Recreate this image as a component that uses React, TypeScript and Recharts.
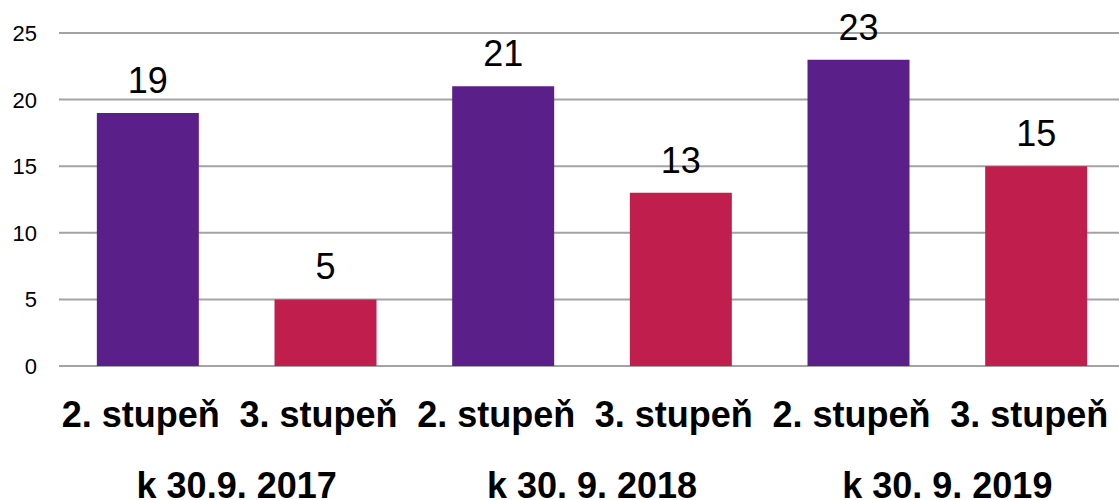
import React from 'react';
import { BarChart, Bar, XAxis, YAxis, CartesianGrid, Cell, LabelList } from 'recharts';

const categories = ['2. stupeň', '3. stupeň', '2. stupeň', '3. stupeň', '2. stupeň', '3. stupeň'];
const groups = ['k 30.9. 2017', 'k 30. 9. 2018', 'k 30. 9. 2019'];
const values = [19, 5, 21, 13, 23, 15];
const yTicks = [0, 5, 10, 15, 20, 25];
const colors = ['#5B1F8A', '#C01F4E'];

const data = categories.map((c, i) => ({ name: c, idx: i, value: values[i] }));

const CHART_W = 1125;
const CHART_H = 510;
const Y_W = 59;
const FONT = '"Liberation Sans", Arial, sans-serif';
const band = (CHART_W - Y_W) / categories.length;

const YTick = (props: any) => {
  const { y, payload } = props;
  return (
    <text x={37} y={y + 8} textAnchor="end" fontSize={22} fontFamily={FONT} fill="#000">
      {payload.value}
    </text>
  );
};

const CatTick = (props: any) => {
  const { x, y, payload } = props;
  return (
    <text x={x - 7} y={y + 61} textAnchor="middle" fontSize={36} fontWeight="bold" fontFamily={FONT} fill="#000">
      {payload.value}
    </text>
  );
};

const GroupTick = (props: any) => {
  const { x, y, index } = props;
  if (index % 2 !== 0) return null;
  return (
    <text x={x + band / 2} y={y + 72} textAnchor="middle" fontSize={36} fontWeight="bold" fontFamily={FONT} fill="#000">
      {groups[index / 2]}
    </text>
  );
};

export default function App() {
  return (
    <div style={{ position: 'absolute', left: 0, top: 0, width: 1119, height: 500, overflow: 'hidden', background: '#fff' }}>
      <BarChart
        width={CHART_W}
        height={CHART_H}
        data={data}
        margin={{ top: 33, right: 0, left: 0, bottom: 0 }}
        barCategoryGap="21.3%"
      >
        <CartesianGrid vertical={false} stroke="#a3a3a3" strokeWidth={2} />
        <YAxis
          width={Y_W}
          domain={[0, 25]}
          ticks={yTicks}
          axisLine={false}
          tickLine={false}
          tickSize={0}
          tickMargin={22}
          tick={<YTick />}
        />
        <XAxis
          xAxisId={0}
          dataKey="name"
          axisLine={false}
          tickLine={false}
          tickSize={0}
          tickMargin={0}
          interval={0}
          height={60}
          tick={<CatTick />}
        />
        <XAxis
          xAxisId={1}
          dataKey="idx"
          axisLine={false}
          tickLine={false}
          tickSize={0}
          tickMargin={0}
          interval={0}
          height={84}
          tick={<GroupTick />}
        />
        <Bar dataKey="value" xAxisId={0} isAnimationActive={false}>
          {data.map((d, i) => (
            <Cell key={i} fill={colors[i % 2]} />
          ))}
          <LabelList dataKey="value" position="top" offset={20} fontSize={36} fill="#000" fontFamily={FONT} />
        </Bar>
      </BarChart>
    </div>
  );
}
